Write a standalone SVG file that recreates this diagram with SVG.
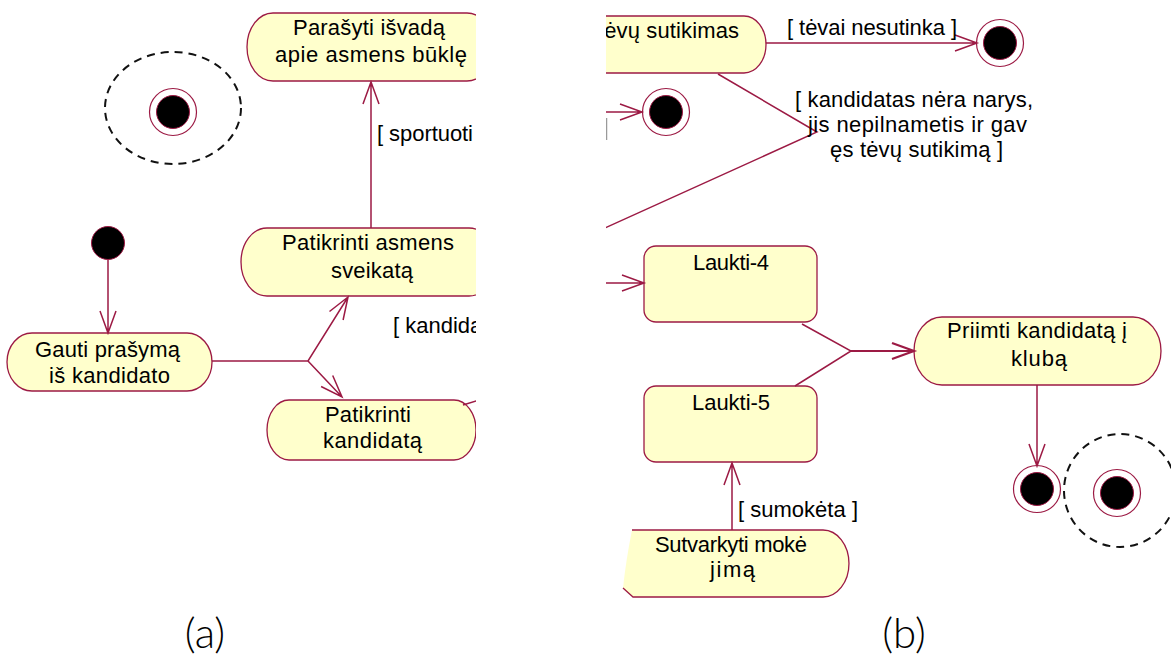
<svg xmlns="http://www.w3.org/2000/svg" width="1171" height="660" viewBox="0 0 1171 660">
  <style>
    .act { fill: #ffffcc; stroke: #9c1a44; stroke-width: 1.3; }
    .fillonly { fill: #ffffcc; stroke: none; }
    .edge { fill: none; stroke: #9c1a44; stroke-width: 1.3; }
    .conn { fill: none; stroke: #9c1a44; stroke-width: 1.5; }
    .dash { fill: none; stroke: #111; stroke-width: 2; stroke-dasharray: 8 6; }
    .ring { fill: #ffffff; stroke: #9c1a44; stroke-width: 1.2; }
    .dot { fill: #000; stroke: #9c1a44; stroke-width: 1; }
    text { font-family: "Liberation Sans", Arial, sans-serif; font-size: 22px; fill: #000; }
    .c { text-anchor: middle; }
    .cap { font-family: Lato, "Liberation Sans", sans-serif; font-weight: 300; font-size: 42px; text-anchor: middle; }
  </style>
  <defs>
    <clipPath id="panelA"><rect x="0" y="0" width="476" height="660"/></clipPath>
    <clipPath id="panelB"><rect x="606" y="0" width="565" height="660"/></clipPath>
  </defs>

  <rect width="1171" height="660" fill="#ffffff"/>

  <!-- (a) -->
  <g clip-path="url(#panelA)">
    <g id="a-swimlane-final">
      <ellipse class="dash" cx="173" cy="108" rx="68" ry="56"/>
      <circle class="ring" cx="173" cy="112" r="23.5"/>
      <circle class="dot" cx="173" cy="112" r="16.5"/>
    </g>
    <g id="a-start">
      <circle class="dot" cx="108" cy="243" r="16.5"/>
    </g>
    <g id="a-isvada">
      <rect class="act" x="247" y="13" width="246" height="68" rx="26" ry="34"/>
      <text class="c" x="369" y="35" textLength="152" lengthAdjust="spacing">Parašyti išvadą</text>
      <text class="c" x="371" y="62" textLength="192" lengthAdjust="spacing">apie asmens būklę</text>
    </g>
    <g id="a-sveikata">
      <rect class="act" x="241" y="228" width="254" height="68" rx="26" ry="34"/>
      <text class="c" x="368" y="250" textLength="172" lengthAdjust="spacing">Patikrinti asmens</text>
      <text class="c" x="372" y="278" textLength="82" lengthAdjust="spacing">sveikatą</text>
    </g>
    <g id="a-prasymas">
      <rect class="act" x="7" y="333" width="205" height="58" rx="25" ry="29"/>
      <text class="c" x="107.5" y="357" textLength="145" lengthAdjust="spacing">Gauti prašymą</text>
      <text class="c" x="109.5" y="383" textLength="121" lengthAdjust="spacing">iš kandidato</text>
    </g>
    <g id="a-kandidatas">
      <rect class="act" x="267" y="400" width="209" height="60" rx="22" ry="30"/>
      <text class="c" x="368" y="422" textLength="86" lengthAdjust="spacing">Patikrinti</text>
      <text class="c" x="372.5" y="448" textLength="99" lengthAdjust="spacing">kandidatą</text>
    </g>
    <g id="a-connectors">
      <path class="conn" d="M108,260 V332 M100,311 L108,333 L116,311"/>
      <path class="conn" d="M371,228 V82 M363,104 L371,82 L379,104"/>
      <path class="conn" d="M212,361 H308 L348,297 M329.5,311.5 L348,297 L343.1,320"/>
      <path class="conn" d="M308,361 L342,397 M321.1,386.5 L342,397 L332.7,375.5"/>
      <path class="conn" d="M463,405 L492,396"/>
      <text x="377" y="141" textLength="96" lengthAdjust="spacing">[ sportuoti</text>
      <text x="393" y="333">[ kandida</text>
    </g>
  </g>

  <!-- (b) -->
  <g clip-path="url(#panelB)">
    <g id="b-tevu">
      <rect class="act" x="560" y="16" width="206" height="57" rx="22" ry="28.5"/>
      <text x="598" y="38" textLength="141" lengthAdjust="spacing">tėvų sutikimas</text>
    </g>
    <g id="b-final-1">
      <circle class="ring" cx="1000" cy="43" r="23.5"/>
      <circle class="dot" cx="1000" cy="43" r="16.5"/>
    </g>
    <g id="b-final-2">
      <circle class="ring" cx="666" cy="112" r="23.5"/>
      <circle class="dot" cx="666" cy="112" r="16.5"/>
    </g>
    <g id="b-laukti-4">
      <rect class="act" x="644" y="246" width="173" height="76" rx="12" ry="12"/>
      <text class="c" x="731" y="270" textLength="76" lengthAdjust="spacing">Laukti-4</text>
    </g>
    <g id="b-laukti-5">
      <rect class="act" x="644" y="386" width="173" height="76" rx="12" ry="12"/>
      <text class="c" x="731" y="410" textLength="78" lengthAdjust="spacing">Laukti-5</text>
    </g>
    <g id="b-priimti">
      <rect class="act" x="914" y="317" width="247" height="68" rx="28" ry="34"/>
      <text class="c" x="1037" y="338" textLength="180" lengthAdjust="spacing">Priimti kandidatą į</text>
      <text class="c" x="1039" y="366" textLength="56" lengthAdjust="spacing">klubą</text>
    </g>
    <g id="b-final-3">
      <circle class="ring" cx="1037" cy="489" r="23.5"/>
      <circle class="dot" cx="1037" cy="489" r="16.5"/>
    </g>
    <g id="b-swimlane-final">
      <ellipse class="dash" cx="1120" cy="490.5" rx="56" ry="56.5"/>
      <circle class="ring" cx="1117" cy="493" r="23.5"/>
      <circle class="dot" cx="1117" cy="493" r="16.5"/>
    </g>
    <g id="b-mokejimas">
      <path class="fillonly" d="M632,530 H823 A26,33.5 0 0 1 823,597 H633 L623,588 Q626,560 632,530 Z"/>
      <path class="edge" d="M632,530 H823 A26,33.5 0 0 1 823,597 H633 L623,588"/>
      <text class="c" x="731" y="552" textLength="152" lengthAdjust="spacing">Sutvarkyti mokė</text>
      <text class="c" x="732.5" y="577" textLength="45" lengthAdjust="spacing">jimą</text>
    </g>
    <g id="b-connectors">
      <path class="conn" d="M766,43 H977 M955,35 L977,43 L955,51"/>
      <path class="conn" d="M605,112 H642 M620,104 L642,112 L620,120"/>
      <path class="conn" d="M718,74 L817,132 L605,228"/>
      <path class="conn" d="M605,283 H644 M622,275 L644,283 L622,291"/>
      <path class="conn" d="M802,324 L851,351 L795,386"/>
      <path class="conn" style="stroke-width:2.2" d="M851,351 H914 M892,343 L914,351 L892,359"/>
      <path class="conn" d="M732,530 V463 M724,485 L732,463 L740,485"/>
      <path class="conn" d="M1037,385 V466 M1029,444 L1037,466 L1045,444"/>
      <line x1="606.5" y1="118" x2="606.5" y2="140" stroke="#9a9a9a" stroke-width="1.5"/>
      <text x="787" y="35" textLength="170" lengthAdjust="spacing">[ tėvai nesutinka ]</text>
      <text class="c" x="914" y="107" textLength="238" lengthAdjust="spacing">[ kandidatas nėra narys,</text>
      <text class="c" x="917.5" y="132" textLength="219" lengthAdjust="spacing">jis nepilnametis ir gav</text>
      <text class="c" x="916.5" y="157" textLength="173" lengthAdjust="spacing">ęs tėvų sutikimą ]</text>
      <text x="738" y="517" textLength="120" lengthAdjust="spacing">[ sumokėta ]</text>
    </g>
  </g>

  <g id="captions">
    <text class="cap" x="205" y="648">(a)</text>
    <text class="cap" x="904" y="648">(b)</text>
  </g>
</svg>
